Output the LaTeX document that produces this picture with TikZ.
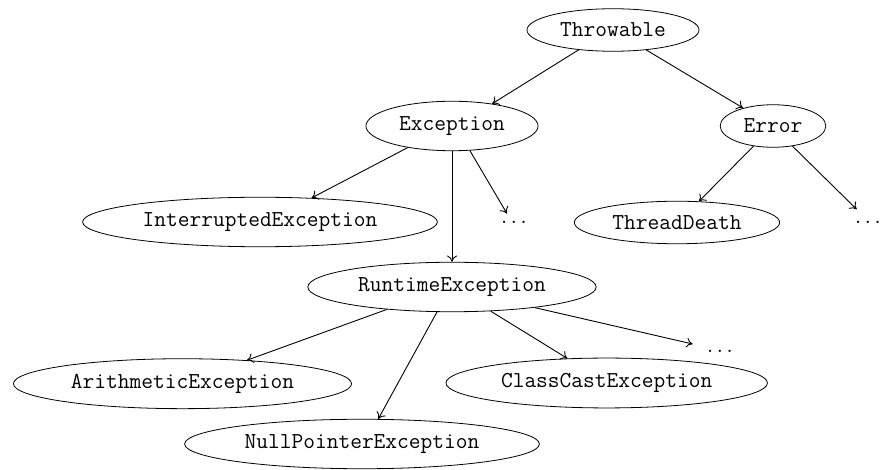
\documentclass[tikz,border=0pt]{standalone}
\usetikzlibrary{shapes.geometric,arrows.meta}
\begin{document}
\begin{tikzpicture}[x=0.5pt,y=-0.5pt,
  cls/.style={draw,ellipse,inner sep=4pt,font=\fontsize{11.4}{13}\selectfont\ttfamily},
  dotsnode/.style={inner sep=0pt,font=\fontsize{11.4}{13}\selectfont},
  edge/.style={draw,line width=0.45pt,-{To[length=3.2pt,width=5pt]}}]
\useasboundingbox (0,0) rectangle (880,470);
\node[cls] (Throwable) at (613,30) {Throwable};
\node[cls] (Exception) at (452,126) {Exception};
\node[cls] (Error) at (773,126) {Error};
\node[cls] (Interrupted) at (260,222) {InterruptedException};
\node[dotsnode] (dots1) at (514,222) {$\ldots$};
\node[cls] (ThreadDeath) at (677,222.5) {ThreadDeath};
\node[dotsnode] (dots2) at (868,222.5) {$\ldots$};
\node[cls] (Runtime) at (452,287) {RuntimeException};
\node[dotsnode] (dots3) at (720,351) {$\ldots$};
\node[cls] (Arithmetic) at (182.5,383.7) {ArithmeticException};
\node[cls] (ClassCast) at (606.7,383) {ClassCastException};
\node[cls] (NullPointer) at (362,444) {NullPointerException};

\path[edge] (Throwable.210.5) -- (Exception.29.4);
\path[edge] (Throwable.329.3) -- (Error.149.2);
\path[edge] (Exception.206.9) -- (Interrupted.25.1);
\path[edge] (Exception.south) -- (Runtime.north);
\path[edge] (Exception.306.9) -- ([shift={(-7,-8.4)}]dots1.center);
\path[edge] (Error.226.4) -- (ThreadDeath.44.3);
\path[edge] (Error.314.4) -- ([shift={(-11.3,-13.2)}]dots2.center);
\path[edge] (Runtime.199.9) -- (Arithmetic.20.1);
\path[edge] (Runtime.239.8) -- (NullPointer.57.8);
\path[edge] (Runtime.328.1) -- (ClassCast.148.8);
\path[edge] (Runtime.346.8) -- ([shift={(-27.3,-7)}]dots3.center);
\end{tikzpicture}
\end{document}
